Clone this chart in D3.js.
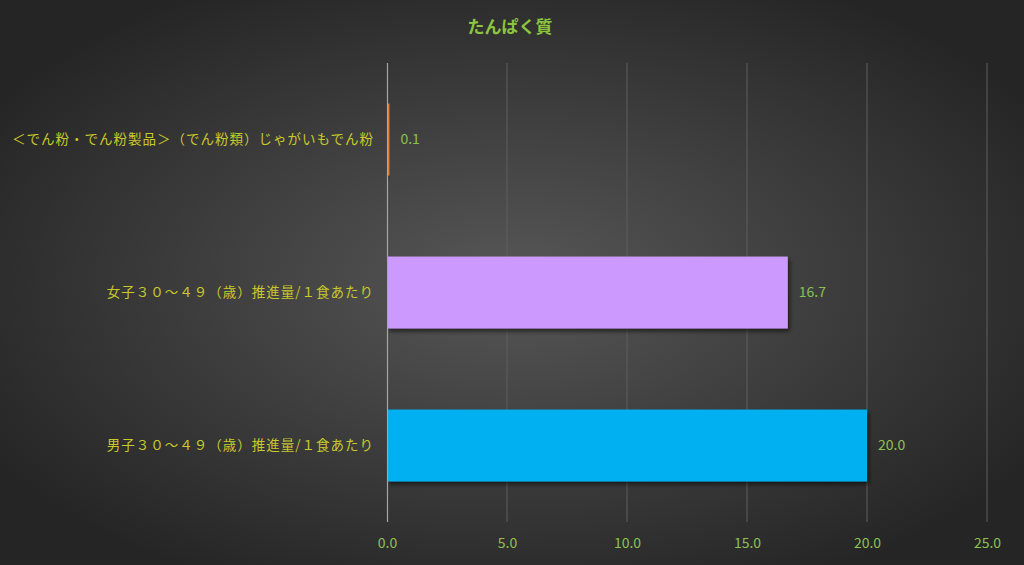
<!DOCTYPE html>
<html>
<head>
<meta charset="utf-8">
<script src="https://cdn.jsdelivr.net/npm/d3@7"></script>
<style>
  html, body { margin: 0; padding: 0; background: #262626; }
  svg { display: block; font-family: "Noto Sans CJK JP", "Noto Sans", sans-serif; }
</style>
</head>
<body>
<svg id="chart" width="1024" height="565"></svg>
<script>
// データ
const title = 'たんぱく質';
const categories = [
  '＜でん粉・でん粉製品＞（でん粉類）じゃがいもでん粉',
  '女子３０～４９（歳）推進量/１食あたり',
  '男子３０～４９（歳）推進量/１食あたり'
];
const values = [0.1, 16.7, 20.0];
const barColors = ['#ED7D31', '#CC99FF', '#00B0F0'];
const tickValues = [0, 5, 10, 15, 20, 25];

const W = 1024, H = 565;
const margin = { top: 63, right: 37, bottom: 43, left: 387 };

const svg = d3.select('#chart');

// 背景 (放射グラデーション)
const defs = svg.append('defs');
const grad = defs.append('radialGradient')
  .attr('id', 'bg').attr('cx', '50%').attr('cy', '50%').attr('r', '60%');
grad.append('stop').attr('offset', '0%').attr('stop-color', '#575757');
grad.append('stop').attr('offset', '100%').attr('stop-color', '#252525');

const shadow = defs.append('filter').attr('id', 'shadow')
  .attr('x', '-5%').attr('y', '-10%').attr('width', '115%').attr('height', '130%');
shadow.append('feDropShadow')
  .attr('dx', 2).attr('dy', 3).attr('stdDeviation', 2)
  .attr('flood-color', '#000').attr('flood-opacity', 0.55);

svg.append('rect').attr('width', W).attr('height', H).attr('fill', 'url(#bg)');

const x = d3.scaleLinear().domain([0, 25]).range([margin.left, W - margin.right]);
const y = d3.scaleBand().domain(categories)
  .range([margin.top, H - margin.bottom]).paddingInner(0.53).paddingOuter(0.265);

// グリッド
svg.append('g').selectAll('line')
  .data(tickValues.slice(1)).enter()
  .append('line')
  .attr('x1', d => x(d)).attr('x2', d => x(d))
  .attr('y1', margin.top).attr('y2', H - margin.bottom)
  .attr('stroke', '#5f5f5f').attr('stroke-width', 1);

// バー
svg.append('g').selectAll('rect')
  .data(values).enter()
  .append('rect')
  .attr('x', x(0))
  .attr('y', (d, i) => y(categories[i]))
  .attr('width', d => Math.max(x(d) - x(0), 1.5))
  .attr('height', y.bandwidth())
  .attr('fill', (d, i) => barColors[i])
  .attr('filter', 'url(#shadow)');

// 縦軸線
svg.append('line')
  .attr('x1', x(0) + 0.5).attr('x2', x(0) + 0.5)
  .attr('y1', margin.top).attr('y2', H - margin.bottom)
  .attr('stroke', '#a6a6a6').attr('stroke-width', 1.2);

// 値ラベル
svg.append('g').selectAll('text')
  .data(values).enter()
  .append('text')
  .attr('x', d => x(d) + 11)
  .attr('y', (d, i) => y(categories[i]) + y.bandwidth() / 2)
  .attr('dy', '0.35em')
  .attr('fill', '#8CC152')
  .attr('font-size', 14)
  .text(d => d.toFixed(1));

// カテゴリラベル
svg.append('g').selectAll('text')
  .data(categories).enter()
  .append('text')
  .attr('x', margin.left - 13)
  .attr('y', d => y(d) + y.bandwidth() / 2)
  .attr('dy', '0.35em')
  .attr('text-anchor', 'end')
  .attr('fill', '#C9C92A')
  .attr('font-size', 13.5)
  .attr('letter-spacing', 1)
  .text(d => d);

// 横軸ラベル
const xAxis = d3.axisBottom(x).tickValues(tickValues).tickFormat(d3.format('.1f')).tickSize(0).tickPadding(16);
const ax = svg.append('g').attr('transform', `translate(0,${H - margin.bottom})`).call(xAxis);
ax.select('.domain').remove();
ax.selectAll('text').attr('fill', '#8CC152').attr('font-size', 14)
  .attr('font-family', '"Noto Sans CJK JP", "Noto Sans", sans-serif');

// タイトル
svg.append('text')
  .attr('x', 510).attr('y', 27)
  .attr('dy', '0.35em')
  .attr('text-anchor', 'middle')
  .attr('fill', '#8CC63F')
  .attr('font-size', 17)
  .attr('font-weight', 'bold')
  .text(title);
</script>
</body>
</html>
